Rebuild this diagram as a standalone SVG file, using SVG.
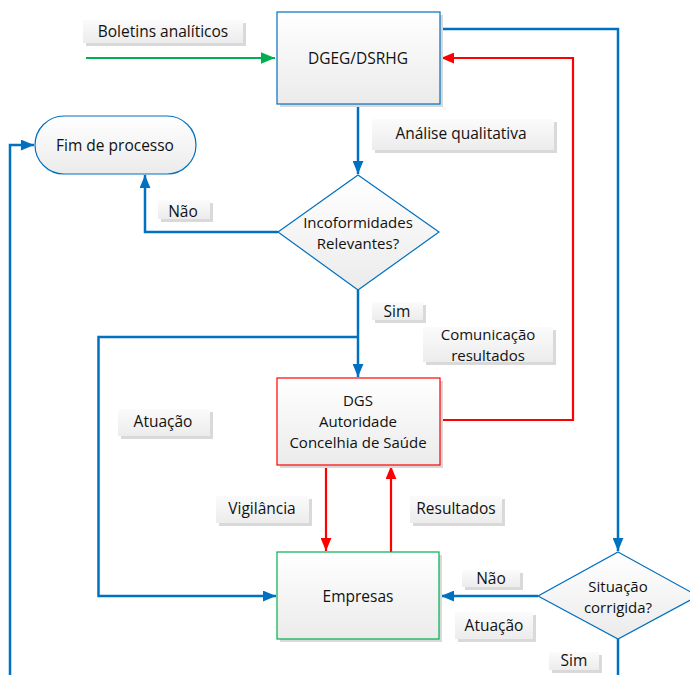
<svg xmlns="http://www.w3.org/2000/svg" width="690" height="675" viewBox="0 0 690 675">
<defs>
<linearGradient id="g" x1="0" y1="0" x2="0" y2="1"><stop offset="0" stop-color="#ffffff"/><stop offset="1" stop-color="#ebebeb"/></linearGradient>
<linearGradient id="gl" x1="0" y1="0" x2="0" y2="1"><stop offset="0" stop-color="#fbfbfb"/><stop offset="1" stop-color="#ececec"/></linearGradient>
<marker id="ab" viewBox="0 0 12 10" refX="12" refY="5" markerWidth="13" markerHeight="11" markerUnits="userSpaceOnUse" orient="auto"><path d="M0,0 L12,5 L0,10 Z" fill="#0070c0"/></marker>
<marker id="ar" viewBox="0 0 12 10" refX="12" refY="5" markerWidth="13" markerHeight="11" markerUnits="userSpaceOnUse" orient="auto"><path d="M0,0 L12,5 L0,10 Z" fill="#ff0000"/></marker>
<marker id="ag" viewBox="0 0 12 10" refX="12" refY="5" markerWidth="14" markerHeight="12" markerUnits="userSpaceOnUse" orient="auto"><path d="M0,0 L12,5 L0,10 Z" fill="#00b050"/></marker>
</defs>
<style>
text{font-family:"Open Sans","Noto Sans","Liberation Sans",sans-serif;font-size:15.5px;fill:#111111;text-anchor:middle;dominant-baseline:central}
.ml{font-size:15px}
.sh{fill:#d9d9d9}
.lb{fill:url(#gl)}
.node{fill:url(#g);stroke-width:1.2}
.b{fill:none;stroke:#0070c0;stroke-width:2.5}
.r{fill:none;stroke:#ff0000;stroke-width:2.2}
.gr{fill:none;stroke:#00b050;stroke-width:2.2}
</style>

<g id="connectors">
<path class="gr" d="M86,58 H275" marker-end="url(#ag)"/>
<path class="b" d="M358,104 V174" marker-end="url(#ab)"/>
<path class="b" d="M278,232 H145 V175" marker-end="url(#ab)"/>
<path class="b" d="M10,675 V145 H34" marker-end="url(#ab)"/>
<path class="b" d="M358,290 V377" marker-end="url(#ab)"/>
<path class="b" d="M358,337 H98.5 V596 H276" marker-end="url(#ab)"/>
<path class="b" d="M440,29 H618 V551" marker-end="url(#ab)"/>
<path class="b" d="M538,596 H441" marker-end="url(#ab)"/>
<path class="b" d="M618,639 V675"/>
<path class="r" d="M440,420 H573 V58 H441" marker-end="url(#ar)"/>
<path class="r" d="M326,465 V551" marker-end="url(#ar)"/>
<path class="r" d="M391,552 V466" marker-end="url(#ar)"/>
</g>

<g id="dgeg">
<rect class="sh" x="280" y="15" width="163" height="92"/>
<rect class="node" x="277" y="12" width="163" height="92" stroke="#0070c0"/>
<text x="358" y="58">DGEG/DSRHG</text>
</g>
<g id="fim">
<rect class="node" x="35" y="116" width="161" height="58" rx="29" stroke="#0070c0"/>
<text x="115" y="145">Fim de processo</text>
</g>
<g id="incof">
<path class="node" d="M358,175 L439,232 L358,290 L278,232 Z" stroke="#0070c0"/>
<text class="ml" x="358" y="222">Incoformidades</text>
<text class="ml" x="358" y="243">Relevantes?</text>
</g>
<g id="dgs">
<rect class="sh" x="280" y="381" width="163" height="87"/>
<rect class="node" x="277" y="378" width="163" height="87" stroke="#ff0000"/>
<text class="ml" x="358" y="400">DGS</text>
<text class="ml" x="358" y="421">Autoridade</text>
<text class="ml" x="358" y="442">Concelhia de Saúde</text>
</g>
<g id="empresas">
<rect class="sh" x="280" y="555" width="162" height="87"/>
<rect class="node" x="277" y="552" width="162" height="87" stroke="#00b050"/>
<text x="358" y="596">Empresas</text>
</g>
<g id="situacao">
<path class="node" d="M618,552 L698,596 L618,639 L538,596 Z" stroke="#0070c0"/>
<text class="ml" x="618" y="586">Situação</text>
<text class="ml" x="618" y="607">corrigida?</text>
</g>

<g id="labels">
<g id="l-boletins"><rect class="sh" x="86" y="23" width="160" height="23"/><rect class="lb" x="83" y="20" width="160" height="23"/><text x="163" y="31">Boletins analíticos</text></g>
<g id="l-analise"><rect class="sh" x="375" y="122" width="182" height="31"/><rect class="lb" x="372" y="119" width="182" height="31"/><text x="461" y="133">Análise qualitativa</text></g>
<g id="l-nao1"><rect class="sh" x="161" y="203" width="52" height="19"/><rect class="lb" x="158" y="200" width="52" height="19"/><text x="183" y="211">Não</text></g>
<g id="l-sim1"><rect class="sh" x="375" y="305" width="51" height="18"/><rect class="lb" x="372" y="302" width="51" height="18"/><text x="397" y="311">Sim</text></g>
<g id="l-com"><rect class="sh" x="426" y="330" width="130" height="35"/><rect class="lb" x="423" y="327" width="130" height="35"/><text class="ml" x="488" y="334">Comunicação</text><text class="ml" x="488" y="355">resultados</text></g>
<g id="l-atu1"><rect class="sh" x="121" y="412" width="92" height="27"/><rect class="lb" x="118" y="409" width="92" height="27"/><text x="163" y="421">Atuação</text></g>
<g id="l-vig"><rect class="sh" x="219" y="499" width="93" height="27"/><rect class="lb" x="216" y="496" width="93" height="27"/><text x="262" y="508">Vigilância</text></g>
<g id="l-res"><rect class="sh" x="413" y="499" width="92" height="27"/><rect class="lb" x="410" y="496" width="92" height="27"/><text x="456" y="508">Resultados</text></g>
<g id="l-nao2"><rect class="sh" x="465" y="573" width="58" height="17"/><rect class="lb" x="462" y="570" width="58" height="17"/><text x="491" y="578">Não</text></g>
<g id="l-atu2"><rect class="sh" x="458" y="615" width="78" height="27"/><rect class="lb" x="455" y="612" width="78" height="27"/><text x="494" y="625">Atuação</text></g>
<g id="l-sim2"><rect class="sh" x="552" y="655" width="50" height="18"/><rect class="lb" x="549" y="652" width="50" height="18"/><text x="574" y="660">Sim</text></g>
</g>
</svg>
